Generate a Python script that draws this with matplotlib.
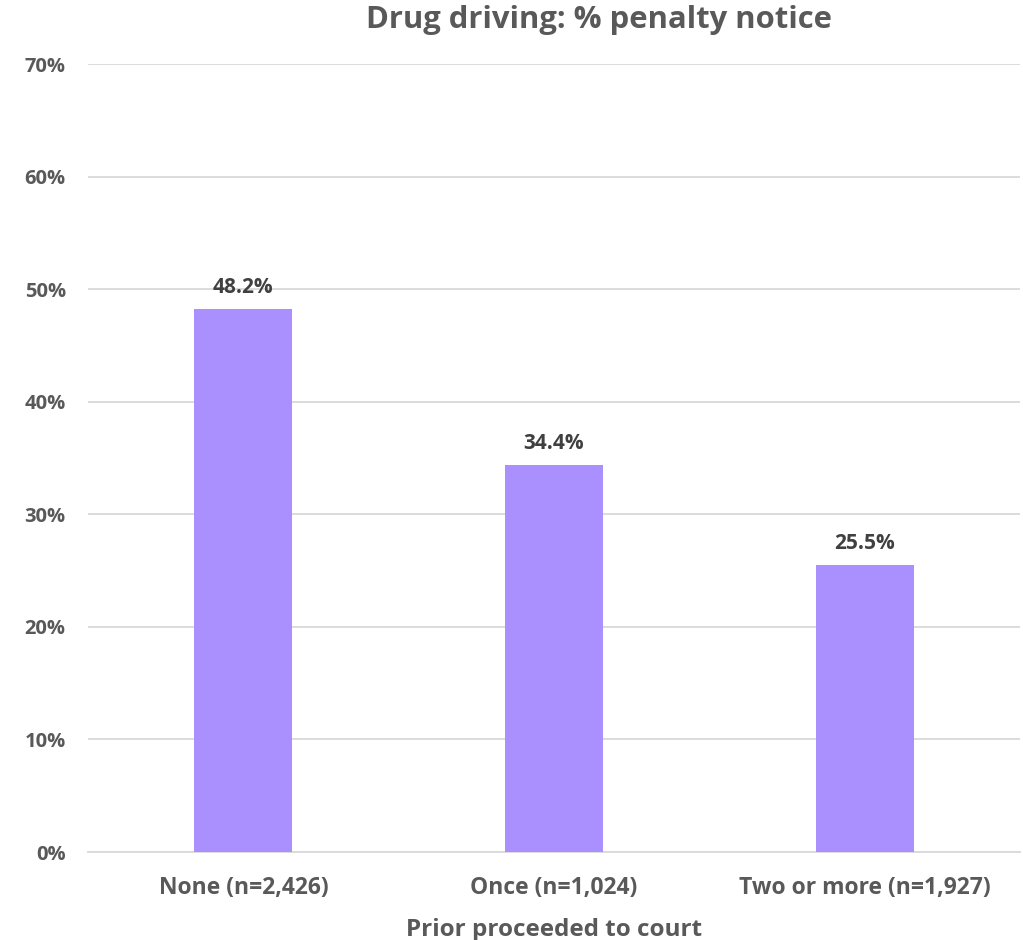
import matplotlib
matplotlib.use("Agg")
import matplotlib.pyplot as plt
from matplotlib.ticker import FuncFormatter

categories = ["None (n=2,426)", "Once (n=1,024)", "Two or more (n=1,927)"]
values = [48.2, 34.4, 25.5]
yticks = [0, 10, 20, 30, 40, 50, 60, 70]

plt.rcParams['font.family'] = ['Open Sans', 'DejaVu Sans']
TXT = "#595959"

fig = plt.figure(figsize=(10.23, 9.40), dpi=100)
ax = fig.add_axes([88/1023, 1-852/940, (1020-88)/1023, (852-64)/940])

x = list(range(len(categories)))
ax.bar(x, values, width=0.316, color="#AA8FFF", zorder=3)
for xi, v in zip(x, values):
    ax.annotate(f"{v:.1f}%", (xi, v), xytext=(0, 8), textcoords="offset points",
                ha="center", va="bottom", fontsize=15, fontweight="bold", color="#404040")

ax.set_xlim(-0.5, len(categories) - 0.5)
ax.set_ylim(0, 70)
ax.set_yticks(yticks)
ax.yaxis.set_major_formatter(FuncFormatter(lambda v, p: f"{v:.0f}%"))
ax.set_xticks(x)
ax.set_xticklabels(categories)
ax.grid(axis="y", color="#D9D9D9", linewidth=1.3, zorder=0)
for s in ["top", "right", "left"]:
    ax.spines[s].set_visible(False)
ax.spines["bottom"].set_color("#D9D9D9")
ax.spines["bottom"].set_linewidth(1.3)
ax.tick_params(axis="both", length=0, labelcolor=TXT)
ax.tick_params(axis="y", pad=16, labelsize=14.5)
ax.tick_params(axis="x", pad=17, labelsize=16.5)
for lab in ax.get_xticklabels() + ax.get_yticklabels():
    lab.set_fontweight("bold")
ax.set_xlabel("Prior proceeded to court", fontsize=17.5, fontweight="bold", color=TXT, labelpad=13)

fig.text(599/1023, 1-20/940, "Drug driving: % penalty notice", ha="center", va="center",
         fontsize=22.3, fontweight="bold", color=TXT)

fig.savefig("out.png", dpi=100)
